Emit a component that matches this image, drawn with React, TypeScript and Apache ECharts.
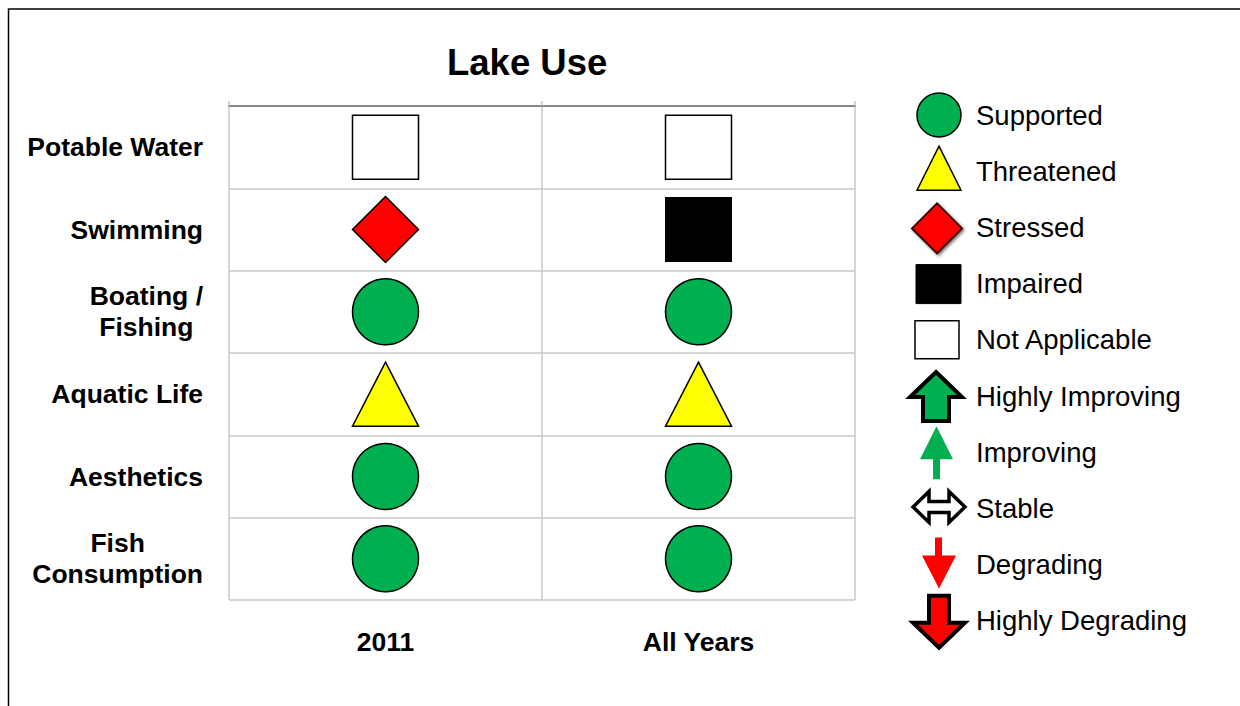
import React, { useEffect, useRef } from 'react';
import * as echarts from 'echarts';

const chartTitle = 'Lake Use';
const periods = ['2011', 'All Years'];
const uses = ['Potable Water', 'Swimming', 'Boating /\nFishing', 'Aquatic Life', 'Aesthetics', 'Fish\nConsumption'];
const status2011 = ['Not Applicable', 'Stressed', 'Supported', 'Threatened', 'Supported', 'Supported'];
const statusAllYears = ['Not Applicable', 'Impaired', 'Supported', 'Threatened', 'Supported', 'Supported'];
const legendNames = [
  'Supported', 'Threatened', 'Stressed', 'Impaired', 'Not Applicable',
  'Highly Improving', 'Improving', 'Stable', 'Degrading', 'Highly Degrading',
];

const FONT = '"Liberation Sans", Arial, sans-serif';
const GREEN = '#00b050';
const YELLOW = '#ffff00';
const RED = '#ff0000';

const markerStyle: Record<string, any> = {
  Supported: { symbol: 'circle', size: [66, 66], itemStyle: { color: GREEN, borderColor: '#000', borderWidth: 1.5, opacity: 1 } },
  Threatened: { symbol: 'triangle', size: [66, 64], itemStyle: { color: YELLOW, borderColor: '#000', borderWidth: 1.5, opacity: 1 } },
  Stressed: { symbol: 'diamond', size: [66, 66], itemStyle: { color: RED, borderColor: '#000', borderWidth: 1.5, opacity: 1 } },
  Impaired: { symbol: 'rect', size: [66, 64], itemStyle: { color: '#000', borderColor: '#000', borderWidth: 1, opacity: 1 } },
  'Not Applicable': { symbol: 'rect', size: [66, 64], itemStyle: { color: '#fff', borderColor: '#000', borderWidth: 1.5, opacity: 1 } },
};

const BOX = 'M0 0 M60 56 ';
const legendIcons: Record<string, any> = {
  Supported: { d: 'M11 28 A22 22 0 1 1 55 28 A22 22 0 1 1 11 28 Z', style: { color: GREEN, borderColor: '#000', borderWidth: 1.5 } },
  Threatened: { d: 'M33 3 L55 47 L11 47 Z', style: { color: YELLOW, borderColor: '#000', borderWidth: 1.5 } },
  Stressed: {
    d: 'M31 4 L56 29 L31 54 L6 29 Z',
    style: { color: RED, borderColor: '#3a0000', borderWidth: 2, shadowColor: 'rgba(0,0,0,0.55)', shadowBlur: 3, shadowOffsetX: 1.5, shadowOffsetY: 1.5 },
  },
  Impaired: { d: 'M10 9 L55 9 L55 48 L10 48 Z', style: { color: '#000', borderColor: '#000', borderWidth: 1 } },
  'Not Applicable': { d: 'M9 9 L53 9 L53 47 L9 47 Z', style: { color: '#fff', borderColor: '#000', borderWidth: 1.5 } },
  'Highly Improving': { d: 'M30 4 L56 29 L43 29 L43 53 L17 53 L17 29 L4 29 Z', style: { color: GREEN, borderColor: '#000', borderWidth: 4 } },
  Improving: { d: 'M30.5 2 L47 35 L34 35 L34 55 L27 55 L27 35 L14 35 Z', style: { color: GREEN, borderWidth: 0 } },
  Stable: { d: 'M7 26.5 L23 11 L23 21 L43 21 L43 11 L59 26.5 L43 42 L43 32 L23 32 L23 42 Z', style: { color: '#fff', borderColor: '#000', borderWidth: 3.5 } },
  Degrading: { d: 'M29 1 L36 1 L36 19 L50 19 L33 52 L16 19 L29 19 Z', style: { color: RED, borderWidth: 0 } },
  'Highly Degrading': { d: 'M23 3 L43 3 L43 30 L59 30 L33 55 L7 30 L23 30 Z', style: { color: RED, borderColor: '#000', borderWidth: 4 } },
};

const LEGEND_FIRST_CENTER = 115;
const LEGEND_STEP = 56.2;

export default function App() {
  const ref = useRef<HTMLDivElement>(null);
  useEffect(() => {
    if (!ref.current) return;
    const chart = echarts.init(ref.current, undefined, { renderer: 'svg' });
    const statusByPeriod = [status2011, statusAllYears];
    const series = legendNames.map((name) => {
      const data: any[] = [];
      statusByPeriod.forEach((arr, c) =>
        arr.forEach((s, r) => {
          if (s === name) data.push([periods[c], uses[r]]);
        })
      );
      const st = markerStyle[name];
      return {
        type: 'scatter',
        name,
        data,
        symbol: st ? st.symbol : 'circle',
        symbolSize: st ? st.size : 0,
        itemStyle: st ? st.itemStyle : { color: legendIcons[name].style.color, opacity: 1 },
        silent: true,
        xAxisIndex: 0,
        yAxisIndex: 0,
      };
    });
    const legends = legendNames.map((name, i) => {
      const st = legendIcons[name].style;
      const w = st.borderWidth || 0;
      return {
        orient: 'vertical',
        left: 906 - w / 2,
        top: LEGEND_FIRST_CENTER + i * LEGEND_STEP - 28 - w / 2,
        padding: 0,
        itemWidth: 60,
        itemHeight: 56,
        selectedMode: false,
        textStyle: { fontFamily: FONT, fontSize: 27.5, color: '#000', padding: [0, 0, 0, 5] },
        data: [
          {
            name,
            icon: 'path://' + BOX + legendIcons[name].d,
            itemStyle: { ...st, opacity: 1 },
          },
        ],
      };
    });
    chart.setOption({
      animation: false,
      backgroundColor: '#fff',
      title: {
        text: chartTitle,
        left: 442,
        top: 39,
        textStyle: { fontFamily: FONT, fontSize: 36.5, fontWeight: 'bold', color: '#000' },
      },
      graphic: [
        {
          type: 'rect',
          shape: { x: 8.5, y: 9, width: 1260, height: 760 },
          style: { fill: 'none', stroke: '#000', lineWidth: 1.5 },
          silent: true,
          z: -1,
        },
      ],
      legend: legends,
      grid: { left: 229, right: 385, top: 106, bottom: 106 },
      xAxis: [
        {
          type: 'category',
          data: periods,
          position: 'bottom',
          axisLine: { show: false },
          axisTick: { show: false },
          axisLabel: { fontFamily: FONT, fontSize: 26.5, fontWeight: 'bold', color: '#000', margin: 28 },
          splitLine: { show: true, lineStyle: { color: '#c8c8c8', width: 1.5 } },
        },
        {
          type: 'category',
          data: periods,
          position: 'top',
          axisLine: { show: true, lineStyle: { color: '#868686', width: 2 } },
          axisTick: { show: true, inside: false, length: 5, lineStyle: { color: '#c0c0c0', width: 1.5 } },
          axisLabel: { show: false },
          splitLine: { show: false },
        },
      ],
      yAxis: {
        type: 'category',
        data: uses,
        inverse: true,
        axisLine: { show: false },
        axisTick: { show: false },
        splitLine: { show: true, lineStyle: { color: '#c8c8c8', width: 1.5 } },
        axisLabel: {
          margin: 26,
          formatter: (v: string) => v.split('\n').map((l) => `{c|${l}}`).join('\n'),
          rich: {
            c: { fontFamily: FONT, fontSize: 26.5, fontWeight: 'bold', color: '#000', lineHeight: 31, align: 'center' },
          },
        },
      },
      series,
    });
    return () => chart.dispose();
  }, []);
  return <div ref={ref} style={{ position: 'absolute', left: 0, top: 0, width: 1240, height: 706 }} />;
}
